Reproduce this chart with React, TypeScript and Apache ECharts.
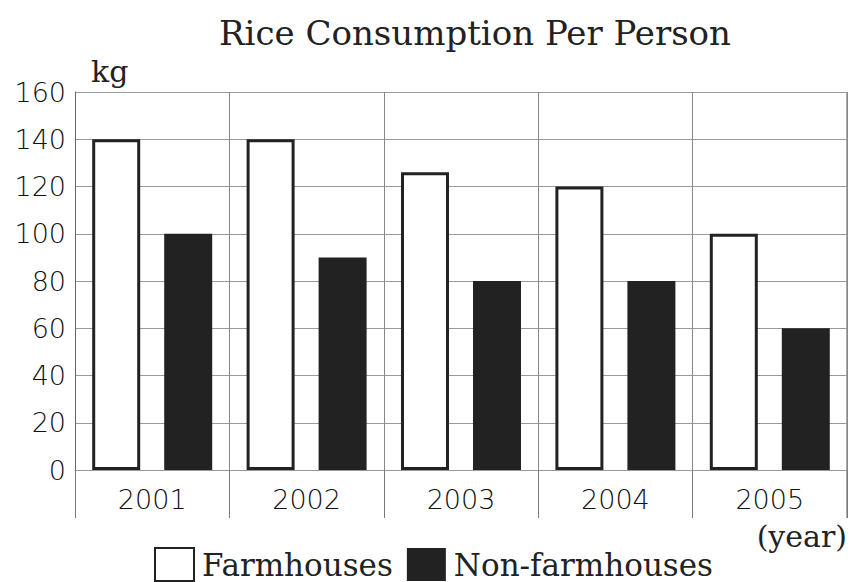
import React, { useEffect, useRef } from "react";
import * as echarts from "echarts";

const years = ["2001", "2002", "2003", "2004", "2005"];
const farmhouses = [140, 140, 126, 120, 100];
const nonFarmhouses = [100, 90, 80, 80, 60];
const yTicks = { min: 0, max: 160, interval: 20 };

const SERIF = "'DejaVu Serif', serif";
const SANS = "'DejaVu Sans', sans-serif";

export default function App() {
  const ref = useRef<HTMLDivElement>(null);
  useEffect(() => {
    const chart = echarts.init(ref.current!, null, { renderer: "svg" });
    chart.setOption({
      animation: false,
      backgroundColor: "#fff",
      title: {
        text: "Rice Consumption Per Person",
        left: 470,
        textAlign: "center",
        top: 11,
        textStyle: { fontFamily: SERIF, fontWeight: "normal", fontSize: 34, color: "#222" },
      },
      legend: {
        data: ["Farmhouses", "Non-farmhouses"],
        left: 154,
        top: 547,
        itemWidth: 39,
        itemHeight: 33,
        itemGap: 14,
        icon: "rect",
        textStyle: { fontFamily: SERIF, fontSize: 31, lineHeight: 31, color: "#222", padding: [0, 0, 0, 3] },
        padding: 0,
      },
      grid: { left: 75, right: 21, top: 92, bottom: 112 },
      xAxis: {
        type: "category",
        data: years,
        name: "(year)",
        nameLocation: "end",
        nameGap: 0,
        nameTextStyle: {
          fontFamily: SERIF,
          fontSize: 30,
          color: "#222",
          align: "right",
          verticalAlign: "top",
          padding: [51, 0, 0, 0],
        },
        axisLine: { show: true, lineStyle: { color: "#999", width: 1 } },
        axisTick: { show: true, length: 48, lineStyle: { color: "#777", width: 1 } },
        splitLine: { show: true, lineStyle: { color: "#888", width: 1 } },
        axisLabel: { fontFamily: SANS, fontWeight: 300, fontSize: 27, color: "#111", margin: 16 },
      },
      yAxis: {
        type: "value",
        min: yTicks.min,
        max: yTicks.max,
        interval: yTicks.interval,
        name: "kg",
        nameLocation: "end",
        nameGap: 6,
        nameTextStyle: { fontFamily: SERIF, fontSize: 30, color: "#222", align: "left", padding: [0, 0, 0, 16] },
        axisLine: { show: true, lineStyle: { color: "#666", width: 1 } },
        axisTick: { show: false },
        splitLine: { show: true, lineStyle: { color: "#999", width: 1 } },
        axisLabel: { fontFamily: SANS, fontWeight: 300, fontSize: 27, color: "#111", margin: 9 },
      },
      series: [
        {
          name: "Farmhouses",
          type: "bar",
          data: farmhouses,
          barWidth: 48,
          barGap: "50%",
          itemStyle: { color: "#fff", borderColor: "#222", borderWidth: 3 },
        },
        {
          name: "Non-farmhouses",
          type: "bar",
          data: nonFarmhouses,
          barWidth: 48,
          itemStyle: { color: "#222" },
        },
      ],
      graphic: [
        {
          type: "line",
          shape: { x1: 847, y1: 92, x2: 847, y2: 518 },
          style: { stroke: "#555", lineWidth: 1 },
        },
      ],
    });
    return () => chart.dispose();
  }, []);
  return <div ref={ref} style={{ width: 868, height: 582, position: "absolute", left: 0, top: 0 }} />;
}
